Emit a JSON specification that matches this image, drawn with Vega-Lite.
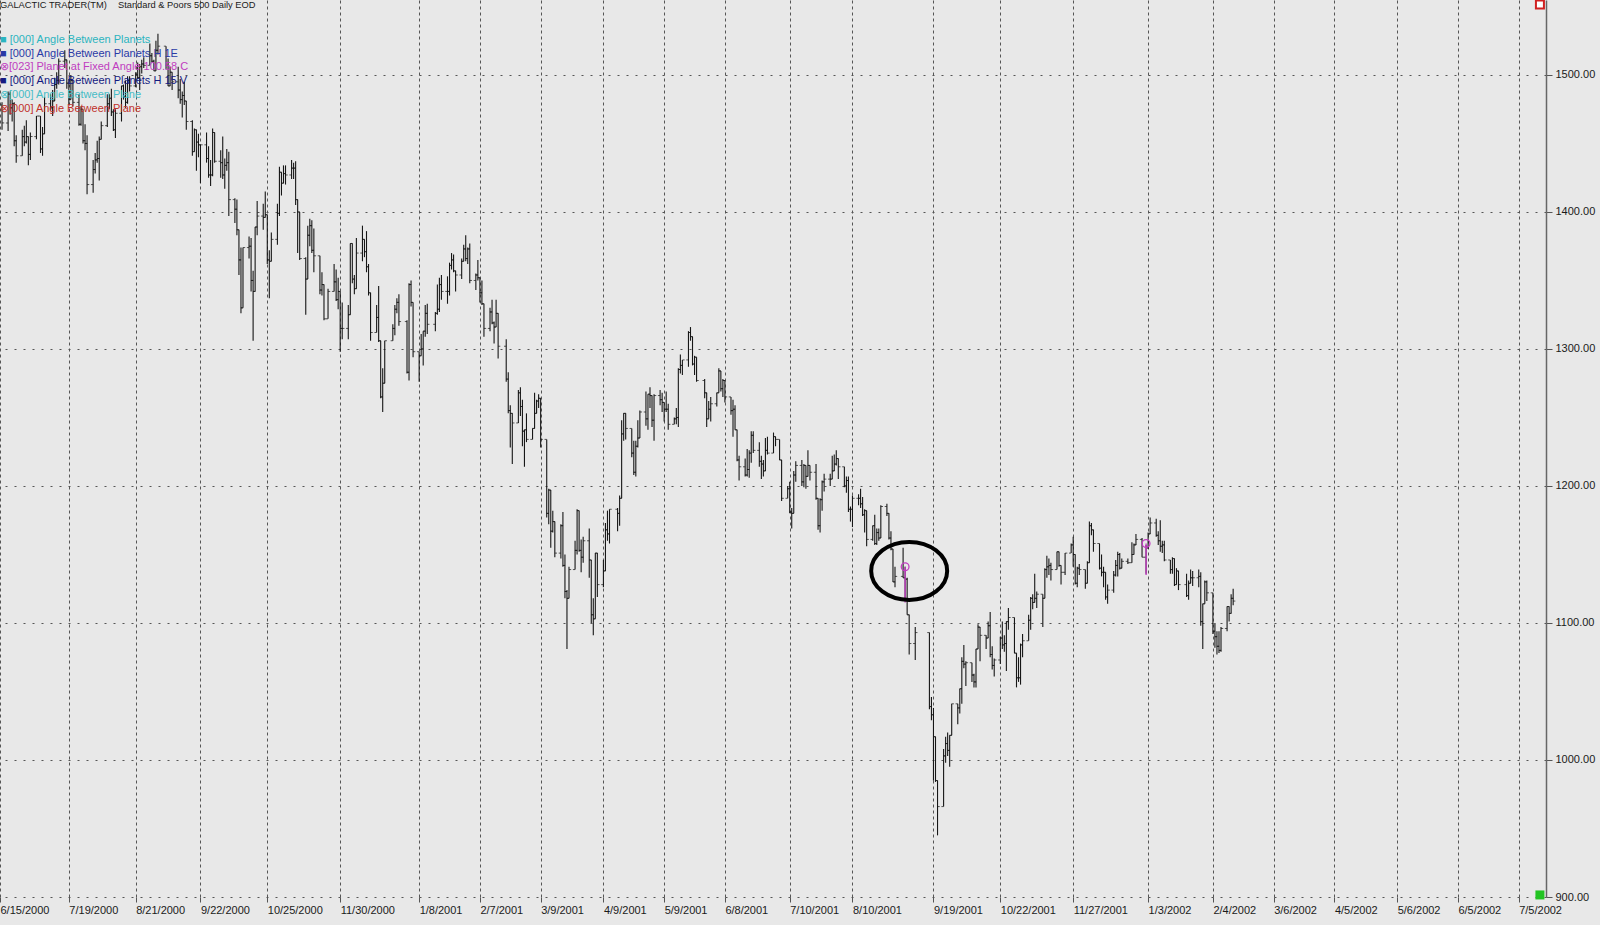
{
  "$schema": "https://vega.github.io/schema/vega-lite/v6.json",
  "width": 1546,
  "height": 897,
  "autosize": "none",
  "padding": {"left": 0, "top": 0, "right": 54, "bottom": 28},
  "background": "#e8e8e8",
  "config": {"view": {"stroke": null}, "font": "Liberation Sans"},
  "datasets": {
    "ohlc": [
      {"date":"2000-06-16","open":1478,"high":1480,"low":1460,"close":1465},
      {"date":"2000-06-19","open":1465,"high":1488,"low":1459,"close":1486},
      {"date":"2000-06-20","open":1486,"high":1488,"low":1471,"close":1476},
      {"date":"2000-06-21","open":1476,"high":1482,"low":1466,"close":1479},
      {"date":"2000-06-22","open":1479,"high":1480,"low":1448,"close":1452},
      {"date":"2000-06-23","open":1452,"high":1456,"low":1436,"close":1441},
      {"date":"2000-06-26","open":1441,"high":1460,"low":1441,"close":1455},
      {"date":"2000-06-27","open":1455,"high":1463,"low":1448,"close":1451},
      {"date":"2000-06-28","open":1451,"high":1467,"low":1450,"close":1455},
      {"date":"2000-06-29","open":1455,"high":1455,"low":1434,"close":1442},
      {"date":"2000-06-30","open":1442,"high":1458,"low":1438,"close":1455},
      {"date":"2000-07-03","open":1455,"high":1470,"low":1453,"close":1470},
      {"date":"2000-07-05","open":1470,"high":1470,"low":1443,"close":1446},
      {"date":"2000-07-06","open":1446,"high":1462,"low":1441,"close":1457},
      {"date":"2000-07-07","open":1457,"high":1484,"low":1457,"close":1479},
      {"date":"2000-07-10","open":1479,"high":1486,"low":1474,"close":1476},
      {"date":"2000-07-11","open":1476,"high":1489,"low":1470,"close":1481},
      {"date":"2000-07-12","open":1481,"high":1498,"low":1481,"close":1493},
      {"date":"2000-07-13","open":1493,"high":1502,"low":1490,"close":1496},
      {"date":"2000-07-14","open":1496,"high":1512,"low":1493,"close":1510},
      {"date":"2000-07-17","open":1510,"high":1518,"low":1505,"close":1511},
      {"date":"2000-07-18","open":1511,"high":1511,"low":1490,"close":1494},
      {"date":"2000-07-19","open":1494,"high":1497,"low":1478,"close":1482},
      {"date":"2000-07-20","open":1482,"high":1500,"low":1482,"close":1496},
      {"date":"2000-07-21","open":1496,"high":1496,"low":1477,"close":1480},
      {"date":"2000-07-24","open":1480,"high":1486,"low":1463,"close":1464},
      {"date":"2000-07-25","open":1464,"high":1477,"low":1463,"close":1475},
      {"date":"2000-07-26","open":1475,"high":1475,"low":1450,"close":1452},
      {"date":"2000-07-27","open":1452,"high":1464,"low":1445,"close":1450},
      {"date":"2000-07-28","open":1450,"high":1456,"low":1413,"close":1420},
      {"date":"2000-07-31","open":1420,"high":1438,"low":1414,"close":1431},
      {"date":"2000-08-01","open":1431,"high":1443,"low":1428,"close":1438},
      {"date":"2000-08-02","open":1438,"high":1452,"low":1436,"close":1439},
      {"date":"2000-08-03","open":1439,"high":1455,"low":1423,"close":1453},
      {"date":"2000-08-04","open":1453,"high":1466,"low":1453,"close":1463},
      {"date":"2000-08-07","open":1463,"high":1486,"low":1462,"close":1479},
      {"date":"2000-08-08","open":1479,"high":1486,"low":1475,"close":1483},
      {"date":"2000-08-09","open":1483,"high":1490,"low":1470,"close":1473},
      {"date":"2000-08-10","open":1473,"high":1475,"low":1459,"close":1460},
      {"date":"2000-08-11","open":1460,"high":1475,"low":1454,"close":1472},
      {"date":"2000-08-14","open":1472,"high":1492,"low":1466,"close":1492},
      {"date":"2000-08-15","open":1492,"high":1493,"low":1482,"close":1484},
      {"date":"2000-08-16","open":1484,"high":1496,"low":1476,"close":1480},
      {"date":"2000-08-17","open":1480,"high":1499,"low":1479,"close":1496},
      {"date":"2000-08-18","open":1496,"high":1499,"low":1488,"close":1492},
      {"date":"2000-08-21","open":1492,"high":1502,"low":1491,"close":1500},
      {"date":"2000-08-22","open":1500,"high":1509,"low":1497,"close":1498},
      {"date":"2000-08-23","open":1498,"high":1508,"low":1489,"close":1506},
      {"date":"2000-08-24","open":1506,"high":1511,"low":1501,"close":1508},
      {"date":"2000-08-25","open":1508,"high":1513,"low":1505,"close":1507},
      {"date":"2000-08-28","open":1507,"high":1523,"low":1507,"close":1514},
      {"date":"2000-08-29","open":1514,"high":1516,"low":1509,"close":1510},
      {"date":"2000-08-30","open":1510,"high":1511,"low":1503,"close":1503},
      {"date":"2000-08-31","open":1503,"high":1525,"low":1503,"close":1518},
      {"date":"2000-09-01","open":1518,"high":1530,"low":1515,"close":1521},
      {"date":"2000-09-05","open":1521,"high":1521,"low":1504,"close":1507},
      {"date":"2000-09-06","open":1507,"high":1512,"low":1492,"close":1492},
      {"date":"2000-09-07","open":1492,"high":1506,"low":1492,"close":1502},
      {"date":"2000-09-08","open":1502,"high":1502,"low":1489,"close":1495},
      {"date":"2000-09-11","open":1495,"high":1506,"low":1483,"close":1489},
      {"date":"2000-09-12","open":1489,"high":1497,"low":1479,"close":1482},
      {"date":"2000-09-13","open":1482,"high":1488,"low":1469,"close":1485},
      {"date":"2000-09-14","open":1485,"high":1495,"low":1478,"close":1481},
      {"date":"2000-09-15","open":1481,"high":1481,"low":1460,"close":1466},
      {"date":"2000-09-18","open":1466,"high":1467,"low":1441,"close":1444},
      {"date":"2000-09-19","open":1444,"high":1461,"low":1444,"close":1460},
      {"date":"2000-09-20","open":1460,"high":1460,"low":1430,"close":1451},
      {"date":"2000-09-21","open":1451,"high":1457,"low":1440,"close":1449},
      {"date":"2000-09-22","open":1449,"high":1449,"low":1421,"close":1449},
      {"date":"2000-09-25","open":1449,"high":1458,"low":1436,"close":1439},
      {"date":"2000-09-26","open":1439,"high":1448,"low":1425,"close":1427},
      {"date":"2000-09-27","open":1427,"high":1438,"low":1419,"close":1427},
      {"date":"2000-09-28","open":1427,"high":1461,"low":1426,"close":1458},
      {"date":"2000-09-29","open":1458,"high":1458,"low":1436,"close":1437},
      {"date":"2000-10-02","open":1437,"high":1445,"low":1425,"close":1436},
      {"date":"2000-10-03","open":1436,"high":1455,"low":1424,"close":1427},
      {"date":"2000-10-04","open":1427,"high":1439,"low":1417,"close":1434},
      {"date":"2000-10-05","open":1434,"high":1446,"low":1430,"close":1436},
      {"date":"2000-10-06","open":1436,"high":1444,"low":1397,"close":1409},
      {"date":"2000-10-09","open":1409,"high":1410,"low":1392,"close":1402},
      {"date":"2000-10-10","open":1402,"high":1409,"low":1383,"close":1387},
      {"date":"2000-10-11","open":1387,"high":1387,"low":1354,"close":1365},
      {"date":"2000-10-12","open":1365,"high":1374,"low":1326,"close":1330},
      {"date":"2000-10-13","open":1330,"high":1374,"low":1330,"close":1374},
      {"date":"2000-10-16","open":1374,"high":1382,"low":1366,"close":1375},
      {"date":"2000-10-17","open":1375,"high":1381,"low":1342,"close":1350},
      {"date":"2000-10-18","open":1350,"high":1357,"low":1306,"close":1342},
      {"date":"2000-10-19","open":1342,"high":1389,"low":1342,"close":1389},
      {"date":"2000-10-20","open":1389,"high":1408,"low":1383,"close":1397},
      {"date":"2000-10-23","open":1397,"high":1406,"low":1387,"close":1396},
      {"date":"2000-10-24","open":1396,"high":1415,"low":1396,"close":1398},
      {"date":"2000-10-25","open":1398,"high":1398,"low":1362,"close":1365},
      {"date":"2000-10-26","open":1365,"high":1372,"low":1337,"close":1364},
      {"date":"2000-10-27","open":1364,"high":1385,"low":1364,"close":1380},
      {"date":"2000-10-30","open":1380,"high":1406,"low":1376,"close":1399},
      {"date":"2000-10-31","open":1399,"high":1433,"low":1397,"close":1429},
      {"date":"2000-11-01","open":1429,"high":1429,"low":1412,"close":1421},
      {"date":"2000-11-02","open":1421,"high":1434,"low":1421,"close":1428},
      {"date":"2000-11-03","open":1428,"high":1434,"low":1420,"close":1427},
      {"date":"2000-11-06","open":1427,"high":1438,"low":1424,"close":1432},
      {"date":"2000-11-07","open":1432,"high":1436,"low":1424,"close":1432},
      {"date":"2000-11-08","open":1432,"high":1437,"low":1405,"close":1409},
      {"date":"2000-11-09","open":1409,"high":1409,"low":1370,"close":1400},
      {"date":"2000-11-10","open":1400,"high":1400,"low":1365,"close":1366},
      {"date":"2000-11-13","open":1366,"high":1367,"low":1325,"close":1351},
      {"date":"2000-11-14","open":1351,"high":1390,"low":1351,"close":1383},
      {"date":"2000-11-15","open":1383,"high":1395,"low":1375,"close":1390},
      {"date":"2000-11-16","open":1390,"high":1394,"low":1370,"close":1372},
      {"date":"2000-11-17","open":1372,"high":1388,"low":1356,"close":1368},
      {"date":"2000-11-20","open":1368,"high":1368,"low":1340,"close":1343},
      {"date":"2000-11-21","open":1343,"high":1356,"low":1339,"close":1347},
      {"date":"2000-11-22","open":1347,"high":1347,"low":1321,"close":1322},
      {"date":"2000-11-24","open":1322,"high":1344,"low":1322,"close":1342},
      {"date":"2000-11-27","open":1342,"high":1362,"low":1342,"close":1349},
      {"date":"2000-11-28","open":1349,"high":1358,"low":1335,"close":1336},
      {"date":"2000-11-29","open":1336,"high":1352,"low":1329,"close":1342},
      {"date":"2000-11-30","open":1342,"high":1342,"low":1298,"close":1315},
      {"date":"2000-12-01","open":1315,"high":1334,"low":1307,"close":1315},
      {"date":"2000-12-04","open":1315,"high":1332,"low":1307,"close":1325},
      {"date":"2000-12-05","open":1325,"high":1377,"low":1325,"close":1377},
      {"date":"2000-12-06","open":1377,"high":1377,"low":1348,"close":1351},
      {"date":"2000-12-07","open":1351,"high":1354,"low":1340,"close":1344},
      {"date":"2000-12-08","open":1344,"high":1381,"low":1344,"close":1370},
      {"date":"2000-12-11","open":1370,"high":1390,"low":1364,"close":1380},
      {"date":"2000-12-12","open":1380,"high":1380,"low":1367,"close":1371},
      {"date":"2000-12-13","open":1371,"high":1386,"low":1356,"close":1360},
      {"date":"2000-12-14","open":1360,"high":1362,"low":1339,"close":1341},
      {"date":"2000-12-15","open":1341,"high":1341,"low":1306,"close":1312},
      {"date":"2000-12-18","open":1312,"high":1332,"low":1312,"close":1323},
      {"date":"2000-12-19","open":1323,"high":1346,"low":1305,"close":1306},
      {"date":"2000-12-20","open":1306,"high":1306,"low":1264,"close":1265},
      {"date":"2000-12-21","open":1265,"high":1286,"low":1254,"close":1275},
      {"date":"2000-12-22","open":1275,"high":1306,"low":1275,"close":1306},
      {"date":"2000-12-26","open":1306,"high":1318,"low":1306,"close":1315},
      {"date":"2000-12-27","open":1315,"high":1332,"low":1310,"close":1329},
      {"date":"2000-12-28","open":1329,"high":1337,"low":1326,"close":1334},
      {"date":"2000-12-29","open":1334,"high":1340,"low":1317,"close":1320},
      {"date":"2001-01-02","open":1320,"high":1321,"low":1282,"close":1283},
      {"date":"2001-01-03","open":1283,"high":1348,"low":1277,"close":1347},
      {"date":"2001-01-04","open":1347,"high":1350,"low":1331,"close":1334},
      {"date":"2001-01-05","open":1334,"high":1334,"low":1294,"close":1298},
      {"date":"2001-01-08","open":1298,"high":1298,"low":1276,"close":1295},
      {"date":"2001-01-09","open":1295,"high":1311,"low":1295,"close":1300},
      {"date":"2001-01-10","open":1300,"high":1313,"low":1288,"close":1313},
      {"date":"2001-01-11","open":1313,"high":1332,"low":1309,"close":1326},
      {"date":"2001-01-12","open":1326,"high":1333,"low":1311,"close":1318},
      {"date":"2001-01-16","open":1318,"high":1327,"low":1313,"close":1326},
      {"date":"2001-01-17","open":1326,"high":1347,"low":1325,"close":1329},
      {"date":"2001-01-18","open":1329,"high":1352,"low":1327,"close":1347},
      {"date":"2001-01-19","open":1347,"high":1354,"low":1336,"close":1342},
      {"date":"2001-01-22","open":1342,"high":1353,"low":1333,"close":1342},
      {"date":"2001-01-23","open":1342,"high":1363,"low":1339,"close":1361},
      {"date":"2001-01-24","open":1361,"high":1370,"low":1358,"close":1365},
      {"date":"2001-01-25","open":1365,"high":1369,"low":1356,"close":1357},
      {"date":"2001-01-26","open":1357,"high":1357,"low":1342,"close":1354},
      {"date":"2001-01-29","open":1354,"high":1366,"low":1351,"close":1364},
      {"date":"2001-01-30","open":1364,"high":1376,"low":1364,"close":1373},
      {"date":"2001-01-31","open":1373,"high":1383,"low":1364,"close":1366},
      {"date":"2001-02-01","open":1366,"high":1374,"low":1362,"close":1373},
      {"date":"2001-02-02","open":1373,"high":1377,"low":1348,"close":1350},
      {"date":"2001-02-05","open":1350,"high":1355,"low":1343,"close":1354},
      {"date":"2001-02-06","open":1354,"high":1365,"low":1350,"close":1352},
      {"date":"2001-02-07","open":1352,"high":1352,"low":1334,"close":1341},
      {"date":"2001-02-08","open":1341,"high":1350,"low":1332,"close":1333},
      {"date":"2001-02-09","open":1333,"high":1333,"low":1309,"close":1315},
      {"date":"2001-02-12","open":1315,"high":1330,"low":1313,"close":1327},
      {"date":"2001-02-13","open":1327,"high":1336,"low":1318,"close":1319},
      {"date":"2001-02-14","open":1319,"high":1320,"low":1304,"close":1316},
      {"date":"2001-02-15","open":1316,"high":1336,"low":1316,"close":1326},
      {"date":"2001-02-16","open":1326,"high":1326,"low":1293,"close":1302},
      {"date":"2001-02-20","open":1302,"high":1307,"low":1276,"close":1278},
      {"date":"2001-02-21","open":1278,"high":1283,"low":1253,"close":1255},
      {"date":"2001-02-22","open":1255,"high":1259,"low":1228,"close":1253},
      {"date":"2001-02-23","open":1253,"high":1253,"low":1216,"close":1246},
      {"date":"2001-02-26","open":1246,"high":1270,"low":1246,"close":1268},
      {"date":"2001-02-27","open":1268,"high":1272,"low":1251,"close":1258},
      {"date":"2001-02-28","open":1258,"high":1263,"low":1229,"close":1240},
      {"date":"2001-03-01","open":1240,"high":1241,"low":1214,"close":1241},
      {"date":"2001-03-02","open":1241,"high":1253,"low":1232,"close":1234},
      {"date":"2001-03-05","open":1234,"high":1242,"low":1234,"close":1242},
      {"date":"2001-03-06","open":1242,"high":1268,"low":1242,"close":1253},
      {"date":"2001-03-07","open":1253,"high":1263,"low":1253,"close":1262},
      {"date":"2001-03-08","open":1262,"high":1267,"low":1257,"close":1264},
      {"date":"2001-03-09","open":1264,"high":1264,"low":1228,"close":1234},
      {"date":"2001-03-12","open":1234,"high":1234,"low":1177,"close":1180},
      {"date":"2001-03-13","open":1180,"high":1198,"low":1172,"close":1197},
      {"date":"2001-03-14","open":1197,"high":1197,"low":1155,"close":1167},
      {"date":"2001-03-15","open":1167,"high":1182,"low":1166,"close":1174},
      {"date":"2001-03-16","open":1174,"high":1174,"low":1148,"close":1151},
      {"date":"2001-03-19","open":1151,"high":1172,"low":1147,"close":1171},
      {"date":"2001-03-20","open":1171,"high":1181,"low":1141,"close":1142},
      {"date":"2001-03-21","open":1142,"high":1150,"low":1118,"close":1123},
      {"date":"2001-03-22","open":1123,"high":1124,"low":1081,"close":1118},
      {"date":"2001-03-23","open":1118,"high":1141,"low":1118,"close":1139},
      {"date":"2001-03-26","open":1139,"high":1160,"low":1139,"close":1153},
      {"date":"2001-03-27","open":1153,"high":1183,"low":1150,"close":1182},
      {"date":"2001-03-28","open":1182,"high":1182,"low":1152,"close":1153},
      {"date":"2001-03-29","open":1153,"high":1161,"low":1137,"close":1148},
      {"date":"2001-03-30","open":1148,"high":1163,"low":1144,"close":1160},
      {"date":"2001-04-02","open":1160,"high":1169,"low":1133,"close":1146},
      {"date":"2001-04-03","open":1146,"high":1146,"low":1100,"close":1106},
      {"date":"2001-04-04","open":1106,"high":1118,"low":1091,"close":1103},
      {"date":"2001-04-05","open":1103,"high":1151,"low":1103,"close":1151},
      {"date":"2001-04-06","open":1151,"high":1151,"low":1119,"close":1128},
      {"date":"2001-04-09","open":1128,"high":1146,"low":1126,"close":1138},
      {"date":"2001-04-10","open":1138,"high":1173,"low":1138,"close":1168},
      {"date":"2001-04-11","open":1168,"high":1182,"low":1160,"close":1165},
      {"date":"2001-04-12","open":1165,"high":1183,"low":1158,"close":1183},
      {"date":"2001-04-16","open":1183,"high":1184,"low":1167,"close":1180},
      {"date":"2001-04-17","open":1180,"high":1193,"low":1171,"close":1191},
      {"date":"2001-04-18","open":1191,"high":1248,"low":1191,"close":1238},
      {"date":"2001-04-19","open":1238,"high":1253,"low":1233,"close":1253},
      {"date":"2001-04-20","open":1253,"high":1253,"low":1234,"close":1242},
      {"date":"2001-04-23","open":1242,"high":1242,"low":1221,"close":1224},
      {"date":"2001-04-24","open":1224,"high":1233,"low":1208,"close":1210},
      {"date":"2001-04-25","open":1210,"high":1233,"low":1207,"close":1229},
      {"date":"2001-04-26","open":1229,"high":1248,"low":1228,"close":1235},
      {"date":"2001-04-27","open":1235,"high":1255,"low":1235,"close":1254},
      {"date":"2001-04-30","open":1254,"high":1269,"low":1244,"close":1249},
      {"date":"2001-05-01","open":1249,"high":1267,"low":1241,"close":1267},
      {"date":"2001-05-02","open":1267,"high":1272,"low":1257,"close":1266},
      {"date":"2001-05-03","open":1266,"high":1266,"low":1243,"close":1248},
      {"date":"2001-05-04","open":1248,"high":1267,"low":1233,"close":1266},
      {"date":"2001-05-07","open":1266,"high":1270,"low":1259,"close":1263},
      {"date":"2001-05-08","open":1263,"high":1268,"low":1254,"close":1261},
      {"date":"2001-05-09","open":1261,"high":1261,"low":1247,"close":1256},
      {"date":"2001-05-10","open":1256,"high":1269,"low":1254,"close":1256},
      {"date":"2001-05-11","open":1256,"high":1260,"low":1241,"close":1245},
      {"date":"2001-05-14","open":1245,"high":1250,"low":1245,"close":1249},
      {"date":"2001-05-15","open":1249,"high":1257,"low":1245,"close":1250},
      {"date":"2001-05-16","open":1250,"high":1286,"low":1243,"close":1285},
      {"date":"2001-05-17","open":1285,"high":1296,"low":1282,"close":1288},
      {"date":"2001-05-18","open":1288,"high":1292,"low":1281,"close":1292},
      {"date":"2001-05-21","open":1292,"high":1313,"low":1287,"close":1312},
      {"date":"2001-05-22","open":1312,"high":1316,"low":1306,"close":1309},
      {"date":"2001-05-23","open":1309,"high":1309,"low":1288,"close":1289},
      {"date":"2001-05-24","open":1289,"high":1295,"low":1281,"close":1294},
      {"date":"2001-05-25","open":1294,"high":1294,"low":1276,"close":1277},
      {"date":"2001-05-29","open":1277,"high":1278,"low":1264,"close":1268},
      {"date":"2001-05-30","open":1268,"high":1268,"low":1243,"close":1249},
      {"date":"2001-05-31","open":1249,"high":1262,"low":1249,"close":1256},
      {"date":"2001-06-01","open":1256,"high":1265,"low":1247,"close":1260},
      {"date":"2001-06-04","open":1260,"high":1268,"low":1258,"close":1268},
      {"date":"2001-06-05","open":1268,"high":1286,"low":1268,"close":1284},
      {"date":"2001-06-06","open":1284,"high":1284,"low":1269,"close":1271},
      {"date":"2001-06-07","open":1271,"high":1278,"low":1265,"close":1277},
      {"date":"2001-06-08","open":1277,"high":1277,"low":1261,"close":1265},
      {"date":"2001-06-11","open":1265,"high":1265,"low":1252,"close":1255},
      {"date":"2001-06-12","open":1255,"high":1263,"low":1236,"close":1256},
      {"date":"2001-06-13","open":1256,"high":1259,"low":1241,"close":1241},
      {"date":"2001-06-14","open":1241,"high":1241,"low":1218,"close":1219},
      {"date":"2001-06-15","open":1219,"high":1222,"low":1204,"close":1214},
      {"date":"2001-06-18","open":1214,"high":1220,"low":1207,"close":1208},
      {"date":"2001-06-19","open":1208,"high":1227,"low":1207,"close":1212},
      {"date":"2001-06-20","open":1212,"high":1226,"low":1206,"close":1224},
      {"date":"2001-06-21","open":1224,"high":1240,"low":1217,"close":1237},
      {"date":"2001-06-22","open":1237,"high":1240,"low":1224,"close":1226},
      {"date":"2001-06-25","open":1226,"high":1232,"low":1214,"close":1218},
      {"date":"2001-06-26","open":1218,"high":1222,"low":1205,"close":1216},
      {"date":"2001-06-27","open":1216,"high":1219,"low":1207,"close":1211},
      {"date":"2001-06-28","open":1211,"high":1235,"low":1211,"close":1226},
      {"date":"2001-06-29","open":1226,"high":1236,"low":1223,"close":1224},
      {"date":"2001-07-02","open":1224,"high":1239,"low":1224,"close":1236},
      {"date":"2001-07-03","open":1236,"high":1236,"low":1229,"close":1234},
      {"date":"2001-07-05","open":1234,"high":1234,"low":1219,"close":1219},
      {"date":"2001-07-06","open":1219,"high":1219,"low":1189,"close":1191},
      {"date":"2001-07-09","open":1191,"high":1200,"low":1191,"close":1198},
      {"date":"2001-07-10","open":1198,"high":1203,"low":1180,"close":1181},
      {"date":"2001-07-11","open":1181,"high":1184,"low":1169,"close":1180},
      {"date":"2001-07-12","open":1180,"high":1211,"low":1180,"close":1208},
      {"date":"2001-07-13","open":1208,"high":1218,"low":1203,"close":1215},
      {"date":"2001-07-16","open":1215,"high":1219,"low":1200,"close":1203},
      {"date":"2001-07-17","open":1203,"high":1216,"low":1199,"close":1215},
      {"date":"2001-07-18","open":1215,"high":1215,"low":1198,"close":1207},
      {"date":"2001-07-19","open":1207,"high":1226,"low":1207,"close":1215},
      {"date":"2001-07-20","open":1215,"high":1215,"low":1204,"close":1210},
      {"date":"2001-07-23","open":1210,"high":1216,"low":1190,"close":1191},
      {"date":"2001-07-24","open":1191,"high":1191,"low":1168,"close":1171},
      {"date":"2001-07-25","open":1171,"high":1191,"low":1166,"close":1190},
      {"date":"2001-07-26","open":1190,"high":1204,"low":1182,"close":1203},
      {"date":"2001-07-27","open":1203,"high":1209,"low":1196,"close":1205},
      {"date":"2001-07-30","open":1205,"high":1209,"low":1200,"close":1205},
      {"date":"2001-07-31","open":1205,"high":1222,"low":1205,"close":1211},
      {"date":"2001-08-01","open":1211,"high":1223,"low":1211,"close":1216},
      {"date":"2001-08-02","open":1216,"high":1226,"low":1215,"close":1220},
      {"date":"2001-08-03","open":1220,"high":1220,"low":1205,"close":1214},
      {"date":"2001-08-06","open":1214,"high":1214,"low":1199,"close":1200},
      {"date":"2001-08-07","open":1200,"high":1207,"low":1195,"close":1204},
      {"date":"2001-08-08","open":1204,"high":1207,"low":1181,"close":1183},
      {"date":"2001-08-09","open":1183,"high":1185,"low":1174,"close":1183},
      {"date":"2001-08-10","open":1183,"high":1193,"low":1170,"close":1191},
      {"date":"2001-08-13","open":1191,"high":1194,"low":1186,"close":1191},
      {"date":"2001-08-14","open":1191,"high":1198,"low":1184,"close":1187},
      {"date":"2001-08-15","open":1187,"high":1192,"low":1178,"close":1179},
      {"date":"2001-08-16","open":1179,"high":1183,"low":1166,"close":1182},
      {"date":"2001-08-17","open":1182,"high":1182,"low":1156,"close":1161},
      {"date":"2001-08-20","open":1161,"high":1171,"low":1160,"close":1171},
      {"date":"2001-08-21","open":1171,"high":1179,"low":1157,"close":1158},
      {"date":"2001-08-22","open":1158,"high":1169,"low":1157,"close":1166},
      {"date":"2001-08-23","open":1166,"high":1169,"low":1160,"close":1162},
      {"date":"2001-08-24","open":1162,"high":1186,"low":1162,"close":1185},
      {"date":"2001-08-27","open":1185,"high":1187,"low":1178,"close":1180},
      {"date":"2001-08-28","open":1180,"high":1180,"low":1161,"close":1162},
      {"date":"2001-08-29","open":1162,"high":1167,"low":1153,"close":1154},
      {"date":"2001-08-30","open":1154,"high":1154,"low":1130,"close":1130},
      {"date":"2001-08-31","open":1130,"high":1141,"low":1126,"close":1134},
      {"date":"2001-09-04","open":1134,"high":1155,"low":1133,"close":1133},
      {"date":"2001-09-05","open":1133,"high":1141,"low":1116,"close":1132},
      {"date":"2001-09-06","open":1132,"high":1133,"low":1106,"close":1106},
      {"date":"2001-09-07","open":1106,"high":1106,"low":1077,"close":1085},
      {"date":"2001-09-10","open":1085,"high":1097,"low":1073,"close":1093},
      {"date":"2001-09-17","open":1093,"high":1093,"low":1037,"close":1039},
      {"date":"2001-09-18","open":1039,"high":1046,"low":1029,"close":1033},
      {"date":"2001-09-19","open":1033,"high":1038,"low":985,"close":1017},
      {"date":"2001-09-20","open":1017,"high":1017,"low":984,"close":985},
      {"date":"2001-09-21","open":985,"high":985,"low":945,"close":966},
      {"date":"2001-09-24","open":966,"high":1008,"low":966,"close":1003},
      {"date":"2001-09-25","open":1003,"high":1017,"low":998,"close":1012},
      {"date":"2001-09-26","open":1012,"high":1020,"low":1003,"close":1007},
      {"date":"2001-09-27","open":1007,"high":1018,"low":995,"close":1018},
      {"date":"2001-09-28","open":1018,"high":1041,"low":1018,"close":1041},
      {"date":"2001-10-01","open":1041,"high":1041,"low":1026,"close":1038},
      {"date":"2001-10-02","open":1038,"high":1052,"low":1034,"close":1052},
      {"date":"2001-10-03","open":1052,"high":1075,"low":1041,"close":1072},
      {"date":"2001-10-04","open":1072,"high":1084,"low":1067,"close":1070},
      {"date":"2001-10-05","open":1070,"high":1072,"low":1054,"close":1071},
      {"date":"2001-10-08","open":1071,"high":1071,"low":1057,"close":1062},
      {"date":"2001-10-09","open":1062,"high":1063,"low":1053,"close":1057},
      {"date":"2001-10-10","open":1057,"high":1081,"low":1053,"close":1081},
      {"date":"2001-10-11","open":1081,"high":1099,"low":1081,"close":1097},
      {"date":"2001-10-12","open":1097,"high":1097,"low":1072,"close":1091},
      {"date":"2001-10-15","open":1091,"high":1091,"low":1081,"close":1089},
      {"date":"2001-10-16","open":1089,"high":1101,"low":1089,"close":1098},
      {"date":"2001-10-17","open":1098,"high":1108,"low":1075,"close":1077},
      {"date":"2001-10-18","open":1077,"high":1083,"low":1066,"close":1069},
      {"date":"2001-10-19","open":1069,"high":1074,"low":1061,"close":1073},
      {"date":"2001-10-22","open":1073,"high":1090,"low":1070,"close":1089},
      {"date":"2001-10-23","open":1089,"high":1101,"low":1081,"close":1084},
      {"date":"2001-10-24","open":1084,"high":1091,"low":1079,"close":1085},
      {"date":"2001-10-25","open":1085,"high":1101,"low":1065,"close":1101},
      {"date":"2001-10-26","open":1101,"high":1111,"low":1095,"close":1104},
      {"date":"2001-10-29","open":1104,"high":1104,"low":1078,"close":1078},
      {"date":"2001-10-30","open":1078,"high":1078,"low":1053,"close":1060},
      {"date":"2001-10-31","open":1060,"high":1075,"low":1057,"close":1060},
      {"date":"2001-11-01","open":1060,"high":1085,"low":1055,"close":1084},
      {"date":"2001-11-02","open":1084,"high":1092,"low":1075,"close":1087},
      {"date":"2001-11-05","open":1087,"high":1106,"low":1087,"close":1102},
      {"date":"2001-11-06","open":1102,"high":1119,"low":1095,"close":1118},
      {"date":"2001-11-07","open":1118,"high":1121,"low":1110,"close":1115},
      {"date":"2001-11-08","open":1115,"high":1136,"low":1115,"close":1118},
      {"date":"2001-11-09","open":1118,"high":1123,"low":1111,"close":1121},
      {"date":"2001-11-12","open":1121,"high":1121,"low":1097,"close":1118},
      {"date":"2001-11-13","open":1118,"high":1140,"low":1118,"close":1139},
      {"date":"2001-11-14","open":1139,"high":1149,"low":1133,"close":1141},
      {"date":"2001-11-15","open":1141,"high":1147,"low":1135,"close":1142},
      {"date":"2001-11-16","open":1142,"high":1144,"low":1131,"close":1139},
      {"date":"2001-11-19","open":1139,"high":1152,"low":1139,"close":1152},
      {"date":"2001-11-20","open":1152,"high":1152,"low":1141,"close":1142},
      {"date":"2001-11-21","open":1142,"high":1142,"low":1128,"close":1137},
      {"date":"2001-11-23","open":1137,"high":1151,"low":1135,"close":1151},
      {"date":"2001-11-26","open":1151,"high":1158,"low":1151,"close":1157},
      {"date":"2001-11-27","open":1157,"high":1163,"low":1141,"close":1150},
      {"date":"2001-11-28","open":1150,"high":1150,"low":1128,"close":1129},
      {"date":"2001-11-29","open":1129,"high":1141,"low":1126,"close":1140},
      {"date":"2001-11-30","open":1140,"high":1143,"low":1135,"close":1139},
      {"date":"2001-12-03","open":1139,"high":1139,"low":1125,"close":1129},
      {"date":"2001-12-04","open":1129,"high":1145,"low":1129,"close":1144},
      {"date":"2001-12-05","open":1144,"high":1174,"low":1144,"close":1171},
      {"date":"2001-12-06","open":1171,"high":1173,"low":1164,"close":1168},
      {"date":"2001-12-07","open":1168,"high":1168,"low":1152,"close":1158},
      {"date":"2001-12-10","open":1158,"high":1158,"low":1139,"close":1140},
      {"date":"2001-12-11","open":1140,"high":1150,"low":1134,"close":1137},
      {"date":"2001-12-12","open":1137,"high":1141,"low":1126,"close":1137},
      {"date":"2001-12-13","open":1137,"high":1137,"low":1117,"close":1119},
      {"date":"2001-12-14","open":1119,"high":1128,"low":1114,"close":1124},
      {"date":"2001-12-17","open":1124,"high":1138,"low":1122,"close":1135},
      {"date":"2001-12-18","open":1135,"high":1146,"low":1134,"close":1142},
      {"date":"2001-12-19","open":1142,"high":1152,"low":1134,"close":1150},
      {"date":"2001-12-20","open":1150,"high":1151,"low":1139,"close":1140},
      {"date":"2001-12-21","open":1140,"high":1147,"low":1140,"close":1145},
      {"date":"2001-12-24","open":1145,"high":1147,"low":1143,"close":1144},
      {"date":"2001-12-26","open":1144,"high":1159,"low":1144,"close":1150},
      {"date":"2001-12-27","open":1150,"high":1158,"low":1150,"close":1157},
      {"date":"2001-12-28","open":1157,"high":1165,"low":1157,"close":1161},
      {"date":"2001-12-31","open":1161,"high":1162,"low":1148,"close":1148},
      {"date":"2002-01-02","open":1148,"high":1157,"low":1136,"close":1155},
      {"date":"2002-01-03","open":1155,"high":1166,"low":1154,"close":1165},
      {"date":"2002-01-04","open":1165,"high":1177,"low":1165,"close":1173},
      {"date":"2002-01-07","open":1173,"high":1176,"low":1163,"close":1164},
      {"date":"2002-01-08","open":1164,"high":1167,"low":1157,"close":1160},
      {"date":"2002-01-09","open":1160,"high":1175,"low":1152,"close":1156},
      {"date":"2002-01-10","open":1156,"high":1160,"low":1151,"close":1157},
      {"date":"2002-01-11","open":1157,"high":1160,"low":1145,"close":1146},
      {"date":"2002-01-14","open":1146,"high":1146,"low":1136,"close":1139},
      {"date":"2002-01-15","open":1139,"high":1148,"low":1136,"close":1147},
      {"date":"2002-01-16","open":1147,"high":1147,"low":1127,"close":1128},
      {"date":"2002-01-17","open":1128,"high":1140,"low":1128,"close":1138},
      {"date":"2002-01-18","open":1138,"high":1138,"low":1124,"close":1128},
      {"date":"2002-01-22","open":1128,"high":1136,"low":1119,"close":1120},
      {"date":"2002-01-23","open":1120,"high":1131,"low":1117,"close":1129},
      {"date":"2002-01-24","open":1129,"high":1139,"low":1129,"close":1133},
      {"date":"2002-01-25","open":1133,"high":1138,"low":1127,"close":1133},
      {"date":"2002-01-28","open":1133,"high":1139,"low":1126,"close":1134},
      {"date":"2002-01-29","open":1134,"high":1137,"low":1098,"close":1101},
      {"date":"2002-01-30","open":1101,"high":1114,"low":1081,"close":1114},
      {"date":"2002-01-31","open":1114,"high":1131,"low":1114,"close":1130},
      {"date":"2002-02-01","open":1130,"high":1131,"low":1116,"close":1122},
      {"date":"2002-02-04","open":1122,"high":1122,"low":1092,"close":1094},
      {"date":"2002-02-05","open":1094,"high":1100,"low":1082,"close":1090},
      {"date":"2002-02-06","open":1090,"high":1094,"low":1077,"close":1083},
      {"date":"2002-02-07","open":1083,"high":1094,"low":1078,"close":1080},
      {"date":"2002-02-08","open":1080,"high":1097,"low":1079,"close":1096},
      {"date":"2002-02-11","open":1096,"high":1112,"low":1094,"close":1112},
      {"date":"2002-02-12","open":1112,"high":1112,"low":1101,"close":1107},
      {"date":"2002-02-13","open":1107,"high":1121,"low":1107,"close":1118},
      {"date":"2002-02-14","open":1118,"high":1125,"low":1113,"close":1116}
    ],
    "events": [
      {"date":"2001-09-05","high":1141,"low":1115,"event":"[023] Planet at Fixed Angle"},
      {"date":"2002-01-02","high":1158,"low":1135,"event":"[023] Planet at Fixed Angle"}
    ],
    "highlight": [
      {"date":"2001-09-07","price":1138}
    ],
    "studies": [
      {"item":"a1","label":"■ [000] Angle Between Planets","price":1525.5},
      {"item":"a2","label":"■ [000] Angle Between Planets H 1E","price":1515.3},
      {"item":"a3","label":"⊗[023] Planet at Fixed Angle 100.58 C","price":1505.8},
      {"item":"a4","label":"■ [000] Angle Between Planets H 15 V","price":1495.6},
      {"item":"a5","label":"⊗[000] Angle Between Plane","price":1485.4},
      {"item":"a6","label":"⊗[000] Angle Between Plane","price":1475.2}
    ]
  },
  "data": {"name": "ohlc"},
  "layer": [
    {
      "mark": {"type": "rule", "color": "#161616", "strokeWidth": 1.1},
      "encoding": {
        "x": {
          "field": "date",
          "type": "temporal",
          "title": null,
          "scale": {
            "type": "utc",
            "domain": [
              {"year": 2000, "month": 6, "date": 15, "utc": true},
              {"year": 2002, "month": 7, "date": 18, "hours": 12, "utc": true}
            ]
          },
          "axis": {
            "values": [
              {"year": 2000, "month": 6, "date": 15, "utc": true},
              {"year": 2000, "month": 7, "date": 19, "utc": true},
              {"year": 2000, "month": 8, "date": 21, "utc": true},
              {"year": 2000, "month": 9, "date": 22, "utc": true},
              {"year": 2000, "month": 10, "date": 25, "utc": true},
              {"year": 2000, "month": 11, "date": 30, "utc": true},
              {"year": 2001, "month": 1, "date": 8, "utc": true},
              {"year": 2001, "month": 2, "date": 7, "utc": true},
              {"year": 2001, "month": 3, "date": 9, "utc": true},
              {"year": 2001, "month": 4, "date": 9, "utc": true},
              {"year": 2001, "month": 5, "date": 9, "utc": true},
              {"year": 2001, "month": 6, "date": 8, "utc": true},
              {"year": 2001, "month": 7, "date": 10, "utc": true},
              {"year": 2001, "month": 8, "date": 10, "utc": true},
              {"year": 2001, "month": 9, "date": 19, "utc": true},
              {"year": 2001, "month": 10, "date": 22, "utc": true},
              {"year": 2001, "month": 11, "date": 27, "utc": true},
              {"year": 2002, "month": 1, "date": 3, "utc": true},
              {"year": 2002, "month": 2, "date": 4, "utc": true},
              {"year": 2002, "month": 3, "date": 6, "utc": true},
              {"year": 2002, "month": 4, "date": 5, "utc": true},
              {"year": 2002, "month": 5, "date": 6, "utc": true},
              {"year": 2002, "month": 6, "date": 5, "utc": true},
              {"year": 2002, "month": 7, "date": 5, "utc": true}
            ],
            "format": "%-m/%-d/%Y",
            "labelAlign": "left",
            "labelBaseline": "top",
            "labelPadding": 2,
            "labelFontSize": 11,
            "labelColor": "#1a1a1a",
            "labelOverlap": false,
            "labelFlush": false,
            "domain": false,
            "ticks": true,
            "tickSize": 5,
            "tickColor": "#555555",
            "grid": true,
            "gridColor": "#555555",
            "gridDash": [3, 3],
            "gridWidth": 1,
            "gridOpacity": 1,
            "title": null
          }
        },
        "y": {
          "field": "low",
          "type": "quantitative",
          "title": null,
          "scale": {"domain": [900, 1554.7], "nice": false, "zero": false},
          "axis": {
            "orient": "right",
            "values": [900, 1000, 1100, 1200, 1300, 1400, 1500],
            "format": ".2f",
            "labelFontSize": 11,
            "labelColor": "#1a1a1a",
            "labelPadding": 3,
            "labelFlush": false,
            "labelOverlap": false,
            "tickSize": 6,
            "tickColor": "#555555",
            "domain": true,
            "domainColor": "#666666",
            "domainWidth": 1.5,
            "grid": true,
            "gridColor": "#555555",
            "gridDash": [2, 7],
            "gridOpacity": 1,
            "title": null
          }
        },
        "y2": {"field": "high"}
      }
    },
    {
      "mark": {"type": "tick", "orient": "horizontal", "size": 2.2, "thickness": 1, "xOffset": -1.1, "color": "#161616"},
      "encoding": {
        "x": {"field": "date", "type": "temporal", "title": null},
        "y": {"field": "open", "type": "quantitative", "title": null}
      }
    },
    {
      "mark": {"type": "tick", "orient": "horizontal", "size": 2.2, "thickness": 1, "xOffset": 1.1, "color": "#161616"},
      "encoding": {
        "x": {"field": "date", "type": "temporal", "title": null},
        "y": {"field": "close", "type": "quantitative", "title": null}
      }
    },
    {
      "data": {"name": "events"},
      "mark": {"type": "rule", "color": "#c23cc2", "strokeWidth": 1.4},
      "encoding": {
        "x": {"field": "date", "type": "temporal", "title": null},
        "y": {"field": "low", "type": "quantitative", "title": null},
        "y2": {"field": "high"}
      }
    },
    {
      "data": {"name": "events"},
      "mark": {"type": "point", "shape": "circle", "filled": false, "color": "#c23cc2", "size": 60, "strokeWidth": 1.3, "opacity": 1},
      "encoding": {
        "x": {"field": "date", "type": "temporal", "title": null},
        "y": {"field": "high", "type": "quantitative", "title": null}
      }
    },
    {
      "data": {"name": "highlight"},
      "mark": {
        "type": "point",
        "shape": "M-1,0A1,0.763,0,1,1,1,0A1,0.763,0,1,1,-1,0Z",
        "filled": false,
        "color": "#000000",
        "size": 5776,
        "strokeWidth": 4,
        "opacity": 1
      },
      "encoding": {
        "x": {"field": "date", "type": "temporal", "title": null},
        "y": {"field": "price", "type": "quantitative", "title": null}
      }
    },
    {
      "data": {"name": "studies"},
      "mark": {"type": "text", "align": "left", "baseline": "middle", "fontSize": 11, "dx": 0},
      "encoding": {
        "x": {"datum": 961027200000, "type": "temporal"},
        "y": {"field": "price", "type": "quantitative", "title": null},
        "text": {"field": "label"},
        "color": {
          "field": "item",
          "type": "nominal",
          "scale": {
            "domain": ["a1", "a2", "a3", "a4", "a5", "a6"],
            "range": ["#2bb4bf", "#2a3aa6", "#c03cc0", "#141a80", "#46bcc6", "#c0302a"]
          },
          "legend": null
        }
      }
    },
    {
      "data": {"values": [{"text": "GALACTIC TRADER(TM)"}]},
      "mark": {"type": "text", "align": "left", "baseline": "middle", "fontSize": 9.3, "dx": 0, "color": "#1a1a1a"},
      "encoding": {
        "x": {"datum": 961027200000, "type": "temporal"},
        "y": {"datum": 1551.0, "type": "quantitative", "title": null},
        "text": {"field": "text"}
      }
    },
    {
      "data": {"values": [{"text": "Standard & Poors 500 Daily EOD"}]},
      "mark": {"type": "text", "align": "left", "baseline": "middle", "fontSize": 9.3, "dx": 118, "color": "#1a1a1a"},
      "encoding": {
        "x": {"datum": 961027200000, "type": "temporal"},
        "y": {"datum": 1551.0, "type": "quantitative", "title": null},
        "text": {"field": "text"}
      }
    },
    {
      "data": {"values": [{"box": "end"}]},
      "mark": {"type": "square", "size": 81, "color": "#22c422", "opacity": 1},
      "encoding": {
        "x": {"datum": 1026734400000, "type": "temporal"},
        "y": {"datum": 901.5, "type": "quantitative", "title": null}
      }
    },
    {
      "data": {"values": [{"box": "close"}]},
      "mark": {"type": "square", "size": 64, "fill": "#ffffff", "stroke": "#d02020", "strokeWidth": 2, "opacity": 1},
      "encoding": {
        "x": {"datum": 1026734400000, "type": "temporal"},
        "y": {"datum": 1551.5, "type": "quantitative", "title": null}
      }
    }
  ]
}
